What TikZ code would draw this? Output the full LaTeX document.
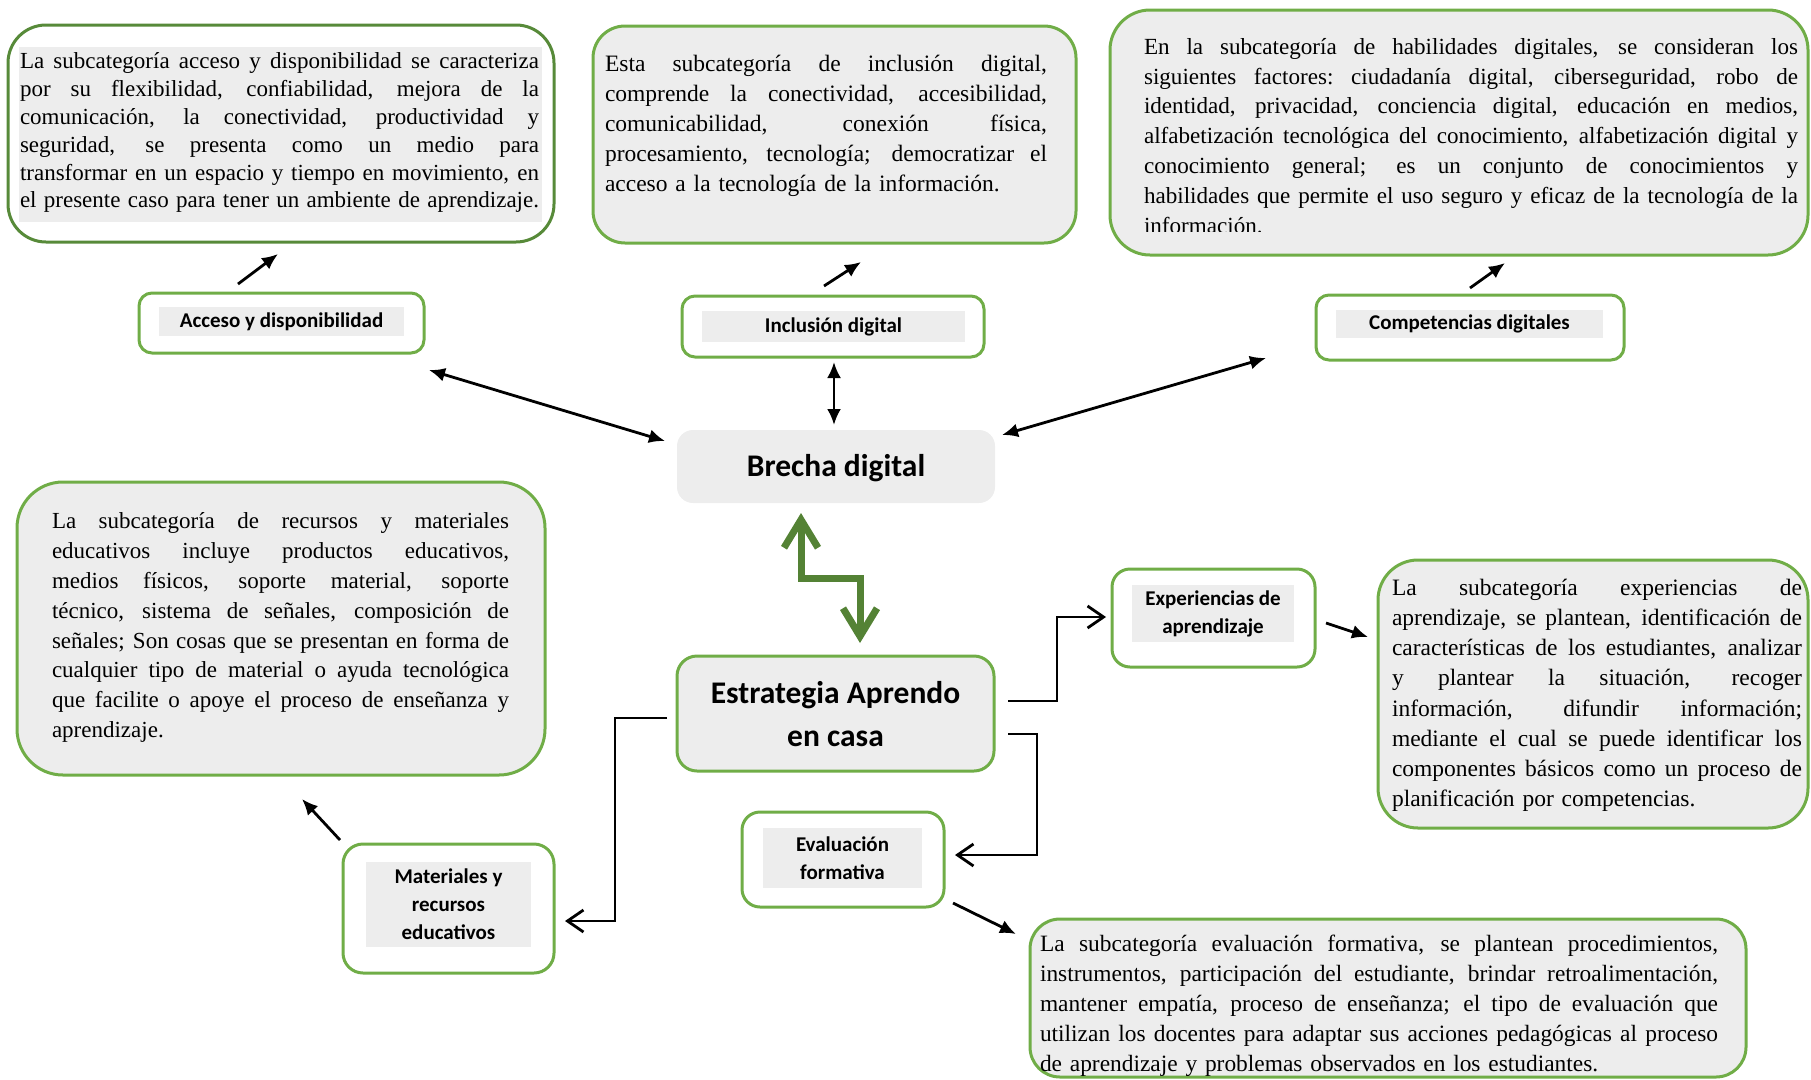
\documentclass[tikz,border=0pt]{standalone}
\usepackage{fontspec}
\setmainfont{Liberation Serif}
\newfontfamily\lblfont{Carlito}
\usetikzlibrary{arrows.meta}
\setlength\parindent{0pt}
\definecolor{boxgrey}{HTML}{EDEDED}
\definecolor{bgreen}{HTML}{70AD47}
\definecolor{dgreen}{HTML}{578A39}
\definecolor{agreen}{HTML}{548235}
\newcommand\J[2]{\hbox to #1{\spaceskip=0.25em plus 1fil minus 0.08em\xspaceskip=\spaceskip\strut#2}}
\newcommand\JL[2]{\hbox to #1{\strut#2\hfil}}
\begin{document}
\begin{tikzpicture}[x=1pt,y=-1pt,
 tbox/.style={draw=bgreen, line width=3pt, fill=boxgrey, rounded corners=36pt, inner sep=0pt, outer sep=0pt},
 lbox/.style={draw=bgreen, line width=3pt, fill=white, rounded corners=13pt, inner sep=0pt, outer sep=0pt},
 hl/.style={fill=boxgrey, inner sep=0pt, outer sep=0pt, font=\lblfont\bfseries\fontsize{21}{28}\selectfont, align=center},
 big/.style={inner sep=0pt, outer sep=0pt, font=\lblfont\bfseries\fontsize{31.5}{43}\selectfont, align=center},
 body/.style={anchor=north west, inner sep=0pt, outer sep=0pt},
 dbl/.style={{Latex[length=16pt,width=14pt]}-{Latex[length=16pt,width=14pt]}, line width=2.8pt},
 one/.style={-{Latex[length=16pt,width=14pt]}, line width=2.8pt},
 elbow/.style={-{Straight Barb[length=16pt,width=22pt]}, line width=2.8pt},
 garrow/.style={{Straight Barb[length=28pt,width=34pt]}-{Straight Barb[length=28pt,width=34pt]}, line width=7pt, draw=agreen},
]
\useasboundingbox (0,0) rectangle (1811,1079);

% ---------- top text boxes ----------
\node[tbox, draw=dgreen, fill=white, rounded corners=38pt, minimum width=546pt, minimum height=217pt] (t1) at (281,133.5) {};
\node[fill=boxgrey, inner sep=0pt, minimum width=523pt, minimum height=175pt] (t1bg) at (280.5,134.5) {};
\node[body, text width=519pt, font=\fontsize{23}{27.8}\selectfont] (t1txt) at (20,49.5) {%
\J{519pt}{La subcategoría acceso y disponibilidad se caracteriza}
\J{519pt}{por su flexibilidad, confiabilidad, mejora de la}
\J{519pt}{comunicación, la conectividad, productividad y}
\J{519pt}{seguridad, se presenta como un medio para}
\J{519pt}{transformar en un espacio y tiempo en movimiento, en}
\J{519pt}{el presente caso para tener un ambiente de aprendizaje.}};

\node[tbox, rounded corners=32pt, minimum width=483pt, minimum height=217pt] (t2) at (834.5,134.5) {};
\node[body, text width=442pt, font=\fontsize{23.5}{30.2}\selectfont] (t2txt) at (605,49.9) {%
\J{442pt}{Esta subcategoría de inclusión digital,}
\J{442pt}{comprende la conectividad, accesibilidad,}
\J{442pt}{comunicabilidad, conexión física,}
\J{442pt}{procesamiento, tecnología; democratizar el}
\JL{442pt}{acceso a la tecnología de la información.}};

\node[tbox, rounded corners=40pt, minimum width=698pt, minimum height=245pt] (t3) at (1459,132.5) {};
\begin{scope}
\clip (1110,10) rectangle (1808,231);
\node[body, text width=654pt, font=\fontsize{23.1}{29.8}\selectfont] (t3txt) at (1144,33.5) {%
\J{654pt}{En la subcategoría de habilidades digitales, se consideran los}
\J{654pt}{siguientes factores: ciudadanía digital, ciberseguridad, robo de}
\J{654pt}{identidad, privacidad, conciencia digital, educación en medios,}
\J{654pt}{alfabetización tecnológica del conocimiento, alfabetización digital y}
\J{654pt}{conocimiento general; es un conjunto de conocimientos y}
\J{654pt}{habilidades que permite el uso seguro y eficaz de la tecnología de la}
\JL{654pt}{información.}};
\end{scope}

% ---------- labels ----------
\node[lbox, minimum width=285pt, minimum height=60pt] (acc) at (281.5,323) {};
\node[hl, minimum width=245pt, minimum height=29pt] (acctxt) at (281.5,321.5) {Acceso y disponibilidad};

\node[lbox, minimum width=302pt, minimum height=61pt] (inc) at (833,326.5) {};
\node[hl, minimum width=263pt, minimum height=31pt] (inctxt) at (833.5,326.5) {Inclusión digital};

\node[lbox, minimum width=308pt, minimum height=65pt] (comp) at (1470,327.5) {};
\node[hl, minimum width=267pt, minimum height=28pt] (comptxt) at (1469.5,323.5) {Competencias digitales};

% ---------- central nodes ----------
\node[fill=boxgrey, rounded corners=16pt, inner sep=0pt, outer sep=0pt, minimum width=318pt, minimum height=73pt] (br) at (836,466.5) {};
\node[big] (brtxt) at (836,468) {Brecha digital};

\node[tbox, rounded corners=20pt, minimum width=317pt, minimum height=115pt] (estr) at (835.5,713.5) {};
\node[big] (estrtxt) at (835.5,714.5) {Estrategia Aprendo\\en casa};

% ---------- lower left ----------
\node[tbox, rounded corners=46pt, minimum width=528pt, minimum height=293pt] (t4) at (281,628.5) {};
\node[body, text width=457pt, font=\fontsize{23}{29.8}\selectfont] (t4txt) at (52,508) {%
\J{457pt}{La subcategoría de recursos y materiales}
\J{457pt}{educativos incluye productos educativos,}
\J{457pt}{medios físicos, soporte material, soporte}
\J{457pt}{técnico, sistema de señales, composición de}
\J{457pt}{señales; Son cosas que se presentan en forma de}
\J{457pt}{cualquier tipo de material o ayuda tecnológica}
\J{457pt}{que facilite o apoye el proceso de enseñanza y}
\JL{457pt}{aprendizaje.}};

\node[lbox, rounded corners=20pt, minimum width=211pt, minimum height=129pt] (mat) at (448.5,908.5) {};
\node[hl, minimum width=165pt, minimum height=85pt] (mattxt) at (448.5,904.5) {Materiales y\\recursos\\educativos};

\node[lbox, rounded corners=18pt, minimum width=202pt, minimum height=95pt] (eval) at (843,859.5) {};
\node[hl, minimum width=159pt, minimum height=60pt] (evaltxt) at (842.5,858) {Evaluación\\formativa};

% ---------- right side ----------
\node[lbox, rounded corners=18pt, minimum width=203pt, minimum height=98pt] (exp) at (1213.5,618) {};
\node[hl, minimum width=162.5pt, minimum height=57pt] (exptxt) at (1213,613.5) {Experiencias de\\aprendizaje};

\node[tbox, rounded corners=40pt, minimum width=430pt, minimum height=268pt] (t5) at (1593,694) {};
\node[body, text width=410pt, font=\fontsize{23.5}{30.2}\selectfont] (t5txt) at (1392,574.1) {%
\J{410pt}{La subcategoría experiencias de}
\J{410pt}{aprendizaje, se plantean, identificación de}
\J{410pt}{características de los estudiantes, analizar}
\J{410pt}{y plantear la situación, recoger}
\J{410pt}{información, difundir información;}
\J{410pt}{mediante el cual se puede identificar los}
\J{410pt}{componentes básicos como un proceso de}
\JL{410pt}{planificación por competencias.}};

\node[tbox, rounded corners=30pt, minimum width=716pt, minimum height=158pt] (t6) at (1388,998) {};
\node[body, text width=678pt, font=\fontsize{23.4}{30}\selectfont] (t6txt) at (1040,930) {%
\J{678pt}{La subcategoría evaluación formativa, se plantean procedimientos,}
\J{678pt}{instrumentos, participación del estudiante, brindar retroalimentación,}
\J{678pt}{mantener empatía, proceso de enseñanza; el tipo de evaluación que}
\J{678pt}{utilizan los docentes para adaptar sus acciones pedagógicas al proceso}
\JL{678pt}{de aprendizaje y problemas observados en los estudiantes.}};

% ---------- connectors ----------
\draw[dbl] ([shift={(5,17)}]acc.south east) -- ([shift={(-12,11)}]br.north west);
\draw[dbl] ([shift={(1,5)}]inc.south) -- ([shift={(-2,-5)}]br.north);
\draw[dbl] ([shift={(7,5)}]br.north east) -- ([shift={(-50,-2)}]comp.south west);

\draw[one] ([shift={(-43.5,-9)}]acc.north) -- ([shift={(-3,12)}]t1.south);
\draw[one] ([shift={(-9,-10)}]inc.north) -- ([shift={(26.5,19)}]t2.south);
\draw[one] ([shift={(0,-7)}]comp.north) -- ([shift={(46,8)}]t3.south);
\draw[one] ([shift={(-3,-4)}]mat.north west) -- ([shift={(21,24)}]t4.south);
\draw[one] ([shift={(9,-4)}]eval.south east) -- ([shift={(-14,15)}]t6.north west);
\draw[one] ([shift={(11,5)}]exp.east) -- ([shift={(-10,-57)}]t5.west);

\draw[elbow] ([shift={(14,-12.5)}]estr.east) -- ++(49,0) |- ([shift={(-6,-1)}]exp.west);
\draw[elbow] ([shift={(14,20.5)}]estr.east) -- ++(29,0) |- ([shift={(11,-4.5)}]eval.east);
\draw[elbow] ([shift={(-10,4.5)}]estr.west) -- ++(-52,0) |- ([shift={(11,12.5)}]mat.east);

\draw[garrow] ([shift={(-35,10)}]br.south) -- ++(0,65) -| ([shift={(24.5,-13)}]estr.north);
\end{tikzpicture}
\end{document}
